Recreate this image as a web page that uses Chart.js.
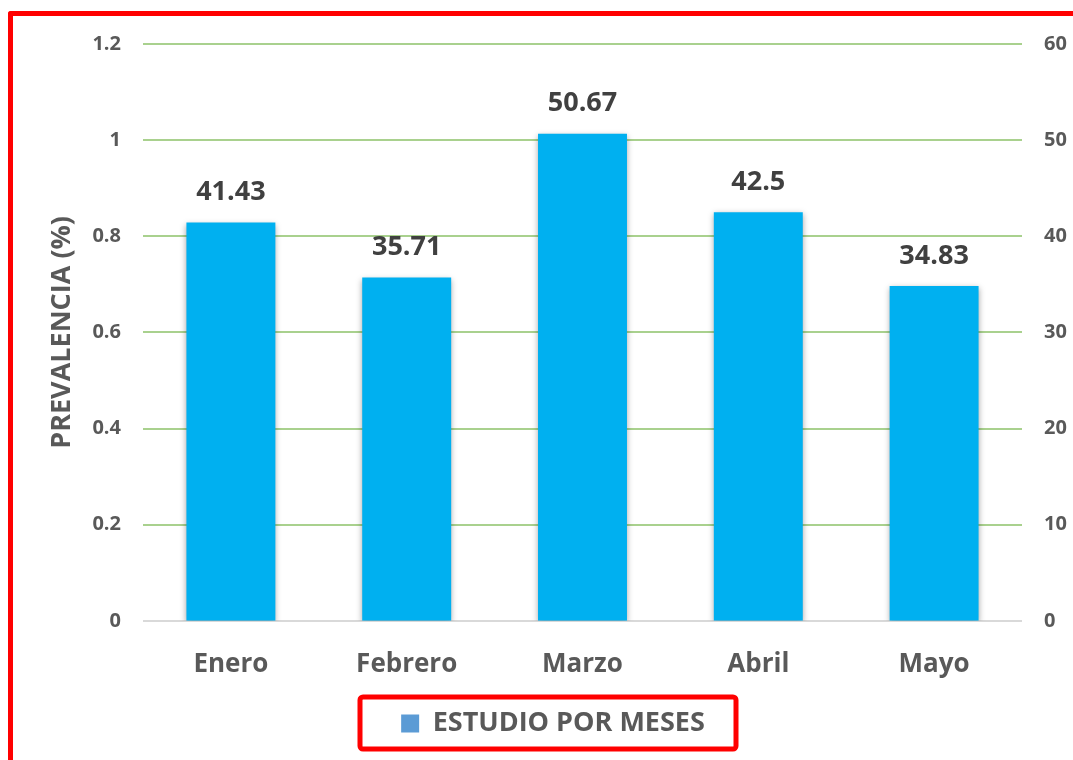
<!DOCTYPE html>
<html><head><meta charset="utf-8">
<script src="https://cdn.jsdelivr.net/npm/chart.js@4/dist/chart.umd.min.js"></script>
<style>
html,body{margin:0;padding:0;background:#fff;overflow:hidden}
#wrap{position:relative;width:1073px;height:760px}
#frame{position:absolute;left:8px;top:11px;width:1200px;height:900px;border-left:5px solid #ff0000;border-top:5px solid #ff0000;border-top-left-radius:3px;pointer-events:none}
</style></head>
<body><div id="wrap"><canvas id="c" width="1073" height="760"></canvas><div id="frame"></div></div>
<script>
const categories = ['Enero', 'Febrero', 'Marzo', 'Abril', 'Mayo'];
const values = [41.43, 35.71, 50.67, 42.5, 34.83];
const seriesName = 'ESTUDIO POR MESES';
const leftTicks = ['0', '0.2', '0.4', '0.6', '0.8', '1', '1.2'];
const rightTicks = ['0', '10', '20', '30', '40', '50', '60'];
const yTitle = 'PREVALENCIA (%)';

const FONT = '"Open Sans", "Noto Sans", sans-serif';
const GREY = '#595959';

const shadowPlugin = {
  id: 'shadow',
  beforeDatasetsDraw(chart) {
    const ctx = chart.ctx; ctx.save();
    ctx.shadowColor = 'rgba(0,0,0,0.35)'; ctx.shadowBlur = 6; ctx.shadowOffsetX = 0; ctx.shadowOffsetY = 2;
  },
  afterDatasetsDraw(chart) {
    const ctx = chart.ctx; ctx.restore();
    const meta = chart.getDatasetMeta(0);
    ctx.save();
    ctx.font = 'bold 27px ' + FONT; ctx.fillStyle = '#404040';
    ctx.textAlign = 'center'; ctx.textBaseline = 'middle';
    meta.data.forEach((bar, i) => {
      ctx.fillText(String(chart.data.datasets[0].data[i]), bar.x, bar.y - 30);
    });
    ctx.restore();
  }
};
const legendBoxPlugin = {
  id: 'legendBox',
  afterDraw(chart) {
    const ctx = chart.ctx;
    ctx.save();
    ctx.strokeStyle = '#ff0000'; ctx.lineWidth = 5;
    ctx.beginPath();
    ctx.roundRect(360, 697, 376, 52, 3);
    ctx.stroke();
    ctx.restore();
  }
};

new Chart(document.getElementById('c'), {
  type: 'bar',
  data: {
    labels: categories,
    datasets: [{
      label: seriesName,
      data: values,
      backgroundColor: '#00b0f0',
      borderWidth: 0,
      yAxisID: 'y1',
      categoryPercentage: 1,
      barPercentage: 0.506
    }]
  },
  options: {
    responsive: false,
    animation: false,
    devicePixelRatio: 1,
    layout: { padding: { left: 30, right: -3, top: 44, bottom: 13 } },
    plugins: {
      tooltip: { enabled: false },
      legend: {
        position: 'bottom',
        labels: {
          boxWidth: 18, boxHeight: 18, padding: 2,
          color: GREY, font: { family: FONT, size: 27, weight: 'bold' },
          generateLabels: (chart) => [{ text: seriesName, fillStyle: '#5b9bd5', strokeStyle: '#5b9bd5', fontColor: GREY, lineWidth: 0, datasetIndex: 0 }]
        }
      }
    },
    scales: {
      x: {
        grid: { display: false, drawTicks: false },
        border: { display: false },
        ticks: { color: GREY, font: { family: FONT, size: 26, weight: 'bold' }, padding: 28 }
      },
      y: {
        position: 'left', min: 0, max: 1.2,
        border: { display: false },
        grid: { drawTicks: false, lineWidth: 2, color: (c) => c.index === 0 ? '#d9d9d9' : '#a9d18e' },
        ticks: { stepSize: 0.2, padding: 22, color: GREY, font: { family: FONT, size: 20, weight: 'bold' },
          callback: (v, i) => leftTicks[i] },
        title: { display: true, text: yTitle, color: GREY, font: { family: FONT, size: 27, weight: 'bold' }, padding: { top: 16, bottom: 0 } },
        afterFit: (s) => { s.width = 113; }
      },
      y1: {
        position: 'right', min: 0, max: 60,
        border: { display: false },
        grid: { display: false, drawTicks: false },
        ticks: { stepSize: 10, padding: 22, color: GREY, font: { family: FONT, size: 20, weight: 'bold' },
          callback: (v, i) => rightTicks[i] },
        afterFit: (s) => { s.width = 54; }
      }
    }
  },
  plugins: [shadowPlugin, legendBoxPlugin]
});
</script></body></html>
